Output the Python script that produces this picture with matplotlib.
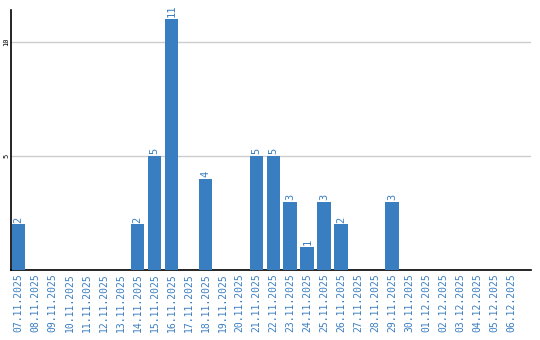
import matplotlib
matplotlib.use("Agg")
import matplotlib.pyplot as plt

dates = ["07.11.2025", "08.11.2025", "09.11.2025", "10.11.2025", "11.11.2025",
         "12.11.2025", "13.11.2025", "14.11.2025", "15.11.2025", "16.11.2025",
         "17.11.2025", "18.11.2025", "19.11.2025", "20.11.2025", "21.11.2025",
         "22.11.2025", "23.11.2025", "24.11.2025", "25.11.2025", "26.11.2025",
         "27.11.2025", "28.11.2025", "29.11.2025", "30.11.2025", "01.12.2025",
         "02.12.2025", "03.12.2025", "04.12.2025", "05.12.2025", "06.12.2025"]
values = [2, 0, 0, 0, 0, 0, 0, 2, 5, 11, 0, 4, 0, 0, 5, 5, 3, 1, 3, 2, 0, 0, 3,
          0, 0, 0, 0, 0, 0, 0]
yticks = [5, 10]

blue = "#3a7ec2"
fig = plt.figure(figsize=(5.4, 3.4), dpi=100)
ax = fig.add_axes([10.5/540, 1-270/340, 520.5/540, 260/340])
x = list(range(len(dates)))
ax.bar(x, values, width=0.82, color=blue, zorder=3)
for xi, v in zip(x, values):
    if v > 0:
        ax.text(xi, v + 0.08, str(v), rotation=90, ha="center", va="bottom",
                color=blue, fontsize=7.5, family="DejaVu Sans Mono")
ax.set_xlim(-0.47, 30.15)
ax.set_ylim(0, 11.4)
ax.set_xticks(x)
ax.set_xticklabels(dates, rotation=90, color=blue, fontsize=7,
                   family="DejaVu Sans Mono")
ax.set_yticks(yticks)
ax.set_yticklabels([str(t) for t in yticks], rotation=90, fontsize=5,
                   family="DejaVu Sans Mono", va="center")
ax.tick_params(axis="x", length=0, pad=2)
ax.tick_params(axis="y", length=0, pad=1)
ax.yaxis.grid(True, color="#cccccc", linewidth=1, zorder=0)
for s in ["top", "right"]:
    ax.spines[s].set_visible(False)
for s in ["left", "bottom"]:
    ax.spines[s].set_color("black")
    ax.spines[s].set_linewidth(1.2)
fig.savefig("out.png", dpi=100)
